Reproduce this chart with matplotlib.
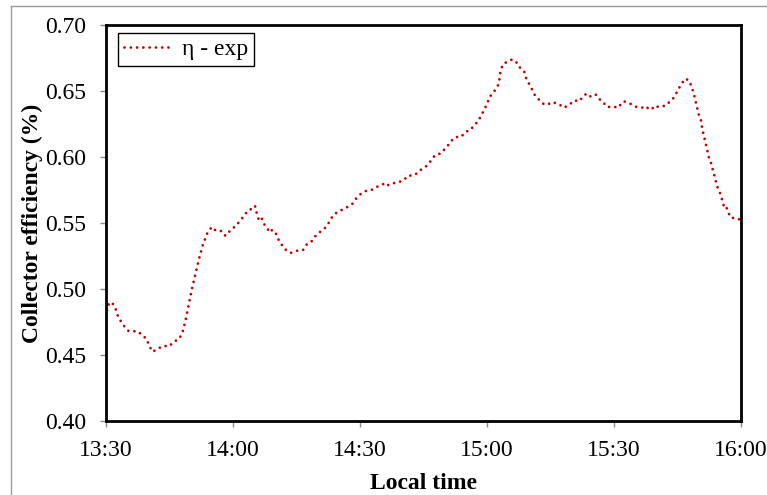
import matplotlib.pyplot as plt
import matplotlib as mpl
from matplotlib.lines import Line2D

# minutes after 13:30 and measured collector efficiency
time_min = [0.0, 0.3, 0.8, 1.7, 2.4, 2.9, 3.7, 4.5, 5.4, 6.5, 7.5, 8.5, 9.6, 10.2,
            11.0, 12.1, 13.5, 14.9, 16.0, 17.3, 18.1, 18.9, 19.6, 20.3, 21.1, 21.9,
            22.8, 23.4, 24.0, 25.0, 26.0, 27.3, 28.2, 28.8, 29.7, 30.7, 31.6, 32.6,
            33.5, 34.5, 35.2, 35.6, 36.1, 36.7, 37.2, 38.0, 38.6, 39.3, 40.2, 40.9,
            41.7, 42.6, 43.7, 44.7, 45.7, 46.6, 47.4, 48.4, 49.3, 50.5, 51.7, 52.7,
            53.5, 54.7, 56.3, 57.3, 58.2, 59.1, 60.3, 61.3, 62.5, 64.0, 65.1, 66.0,
            66.7, 68.0, 68.9, 70.3, 71.4, 72.2, 73.3, 74.0, 75.0, 75.9, 76.8, 77.4,
            78.2, 79.0, 80.0, 81.1, 82.1, 83.1, 83.9, 84.9, 86.1, 87.1, 87.8, 88.6,
            89.4, 90.1, 90.7, 91.3, 91.8, 92.2, 92.6, 92.9, 93.2, 93.8, 94.8, 95.8,
            96.8, 97.4, 98.2, 98.8, 99.3, 100.1, 100.8, 101.4, 102.0, 102.7, 103.4,
            104.3, 105.3, 106.5, 107.2, 108.1, 108.9, 109.8, 110.6, 111.8, 112.8,
            113.5, 114.3, 115.0, 115.7, 116.6, 117.4, 118.2, 119.1, 120.0, 121.0,
            121.6, 122.3, 123.2, 124.0, 125.1, 126.0, 126.9, 127.6, 128.3, 129.0,
            129.6, 130.4, 131.3, 132.2, 132.8, 133.6, 134.1, 135.0, 135.8, 136.8,
            137.7, 138.4, 138.9, 139.3, 139.7, 140.1, 140.6, 140.8, 141.2, 141.6,
            142.0, 142.4, 143.0, 143.4, 143.9, 144.3, 145.0, 145.5, 146.0, 146.4,
            146.9, 147.5, 148.1, 149.1, 150.0]
efficiency = [0.479, 0.485, 0.490, 0.4885, 0.484, 0.4785, 0.4747, 0.4709, 0.468, 0.468,
              0.468, 0.465, 0.4622, 0.457, 0.4524, 0.4544, 0.457, 0.4565, 0.460, 0.4622,
              0.4673, 0.478, 0.489, 0.5001, 0.511, 0.522, 0.5327, 0.5378, 0.5429, 0.547,
              0.544, 0.5439, 0.5403, 0.5423, 0.5456, 0.5477, 0.5515, 0.5553, 0.5595,
              0.5608, 0.563, 0.5575, 0.5524, 0.5542, 0.5497, 0.5467, 0.5429, 0.5449,
              0.5416, 0.5363, 0.5327, 0.5292, 0.5274, 0.5284, 0.5297, 0.5297, 0.5337,
              0.5353, 0.5396, 0.5431, 0.5461, 0.5505, 0.555, 0.5585, 0.5608, 0.5626,
              0.5646, 0.5686, 0.5724, 0.5742, 0.5747, 0.5774, 0.5787, 0.5805, 0.5787,
              0.5802, 0.5807, 0.5823, 0.5861, 0.5858, 0.5873, 0.5896, 0.5916, 0.5937,
              0.5974, 0.6002, 0.6022, 0.6025, 0.606, 0.610, 0.6143, 0.6153, 0.6153,
              0.619, 0.6204, 0.6247, 0.6265, 0.6313, 0.6361, 0.6409, 0.646, 0.6477,
              0.6502, 0.6523, 0.6543, 0.658, 0.6654, 0.6704, 0.6722, 0.6737, 0.6727,
              0.6687, 0.6667, 0.6646, 0.6591, 0.6545, 0.6502, 0.6462, 0.6444, 0.6419,
              0.6401, 0.6396, 0.6416, 0.6406, 0.6396, 0.6373, 0.6386, 0.6406, 0.6429,
              0.6422, 0.6464, 0.6479, 0.6457, 0.6475, 0.6472, 0.6437, 0.6419, 0.6381,
              0.6379, 0.6381, 0.6373, 0.6399, 0.6422, 0.6414, 0.6401, 0.6381, 0.6379,
              0.6373, 0.6361, 0.6384, 0.6373, 0.6361, 0.6384, 0.6384, 0.6389, 0.6409,
              0.6429, 0.6449, 0.650, 0.6548, 0.6593, 0.6581, 0.6528, 0.6472, 0.6419,
              0.6366, 0.631, 0.6273, 0.6222, 0.6164, 0.6111, 0.6055, 0.5999, 0.5946,
              0.5893, 0.5838, 0.5782, 0.5732, 0.5679, 0.5623, 0.563, 0.559, 0.5542,
              0.5539, 0.5527, 0.553]

x_ticks = [0, 30, 60, 90, 120, 150]
x_labels = ['13:30', '14:00', '14:30', '15:00', '15:30', '16:00']
y_ticks = [0.40, 0.45, 0.50, 0.55, 0.60, 0.65, 0.70]

plt.rcParams['font.family'] = ['Liberation Serif', 'DejaVu Serif']

fig = plt.figure(figsize=(7.67, 4.95), dpi=100)
ax = fig.add_axes([106 / 767, 1 - 421 / 495, 635 / 767, 396 / 495])

ax.plot(time_min, efficiency, color='#C00000', linewidth=2.0,
        linestyle=(0, (0.01, 2.25)), dash_capstyle='round', label='η - exp')

ax.set_xlim(0, 150)
ax.set_ylim(0.40, 0.70)
ax.set_xticks(x_ticks)
ax.set_xticklabels(x_labels)
ax.set_yticks(y_ticks)
ax.set_yticklabels(['%.2f' % v for v in y_ticks])
ax.tick_params(axis='both', direction='out', length=4.5, width=1, color='#888888',
               labelsize=17)
ax.tick_params(axis='y', pad=10)
ax.tick_params(axis='x', pad=9.5)

for s in ax.spines.values():
    s.set_linewidth(2.0)
    s.set_color('black')

ax.set_xlabel('Local time', fontsize=17, fontweight='bold', labelpad=8)
ax.set_ylabel('Collector efficiency (%)', fontsize=17, fontweight='bold', labelpad=1)

leg = ax.legend(loc='upper left', bbox_to_anchor=(12 / 635, 1 - 8 / 396),
                borderaxespad=0, fancybox=False, edgecolor='black', framealpha=1,
                fontsize=17, handlelength=2.1, handletextpad=0.35,
                borderpad=0.25)
leg.get_frame().set_linewidth(1.0)

# outer chart-area frame (gray)
fig.add_artist(Line2D([11 / 767, 1], [1 - 6 / 495, 1 - 6 / 495],
                      transform=fig.transFigure, color='#999999', linewidth=1))
fig.add_artist(Line2D([11 / 767, 11 / 767], [0, 1 - 6 / 495],
                      transform=fig.transFigure, color='#999999', linewidth=1))

plt.savefig('out.png', dpi=100)
